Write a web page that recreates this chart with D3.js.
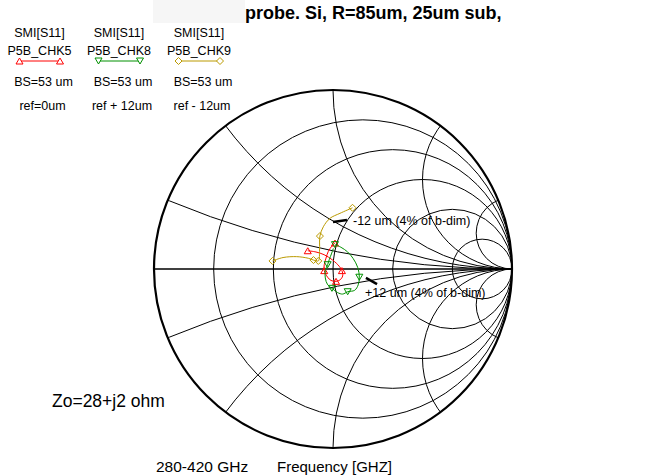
<!DOCTYPE html>
<html><head><meta charset="utf-8">
<script src="https://cdn.jsdelivr.net/npm/d3@7"></script>
<style>
html,body{margin:0;padding:0;background:#fff;}
svg{display:block;font-family:"Liberation Sans",Arial,sans-serif;}
</style></head>
<body>
<svg id="chart" width="666" height="476"></svg>
<script>
// ---- data (reflection coefficient, real / imaginary) ----
const seriesNames = ["P5B_CHK5", "P5B_CHK8", "P5B_CHK9"];
const seriesColors = ["#ff0000", "#009000", "#bb9a00"];
const seriesMarkers = ["up", "down", "diamond"];
const seriesBS = ["BS=53 um", "BS=53 um", "BS=53 um"];
const seriesRef = ["ref=0um", "ref + 12um", "ref - 12um"];

const chk5Re = [-0.141,-0.095,-0.050,-0.002,0.035,0.050,0.054,0.039,0.017,-0.011,-0.030,-0.049,-0.049,-0.039,-0.026,-0.007,0.011];
const chk5Im = [0.102,0.095,0.080,0.050,0.015,-0.009,-0.039,-0.061,-0.069,-0.064,-0.046,-0.009,0.024,0.061,0.099,0.127,0.145];
const chk5Mk = [0,5,8,11,16];

const chk8Re = [0.011,0.045,0.082,0.113,0.138,0.147,0.141,0.121,0.082,0.054,0.026,-0.006,-0.030,-0.043,-0.043,-0.030,-0.021,-0.007,0.002];
const chk8Im = [0.136,0.121,0.095,0.058,0.009,-0.046,-0.088,-0.119,-0.127,-0.140,-0.132,-0.108,-0.088,-0.050,-0.009,0.024,0.052,0.089,0.115];
const chk8Mk = [0,5,8,11,15];

const chk9Re = [-0.338,-0.279,-0.203,-0.138,-0.109,-0.082,-0.075,-0.073,-0.054,-0.017,0.039,0.109];
const chk9Im = [0.045,0.064,0.069,0.060,0.050,0.045,0.106,0.184,0.236,0.283,0.311,0.342];
const chk9Mk = [0,4,5,7,11];

const resistanceCircles = [0.2, 0.5, 1, 2, 5];
const reactanceArcs = [0.2, 0.5, 1, 2, 5, -0.2, -0.5, -1, -2, -5];

const annotTexts = ["-12 um (4% of b-dim)", "+12 um (4% of b-dim)"];
const annotFrom = [[0.000, 0.263], [0.184, -0.050]];
const annotTo = [[0.078, 0.274], [0.246, -0.084]];

const titleText = "probe. Si, R=85um, 25um sub,";
const zoText = "Zo=28+j2 ohm";
const rangeText = "280-420 GHz";
const xLabel = "Frequency [GHZ]";
const legendHead = "SMI[S11]";

// ---- layout ----
const cx = 333, cy = 269, R = 179;
const svg = d3.select("#chart");
const x = d3.scaleLinear().domain([-1, 1]).range([cx - R, cx + R]);
const y = d3.scaleLinear().domain([-1, 1]).range([cy + R, cy - R]);
const k = R; // pixels per unit

// faint box behind title
svg.append("rect").attr("x", 153).attr("y", 0).attr("width", 92).attr("height", 23).attr("fill", "#f6f6f6");

svg.append("defs").append("clipPath").attr("id", "unit")
  .append("circle").attr("cx", x(0)).attr("cy", y(0)).attr("r", k);

const grid = svg.append("g").attr("clip-path", "url(#unit)")
  .attr("fill", "none").attr("stroke", "#000").attr("stroke-width", 1);

grid.selectAll("circle.r").data(resistanceCircles).join("circle")
  .attr("class", "r")
  .attr("cx", r => x(r / (1 + r))).attr("cy", y(0))
  .attr("r", r => k / (1 + r));

grid.selectAll("circle.x").data(reactanceArcs).join("circle")
  .attr("class", "x")
  .attr("cx", x(1)).attr("cy", v => y(1 / v))
  .attr("r", v => k / Math.abs(v));

svg.append("line").attr("x1", x(-1)).attr("x2", x(1)).attr("y1", y(0)).attr("y2", y(0))
  .attr("stroke", "#000").attr("stroke-width", 1.3);

svg.append("circle").attr("cx", x(0)).attr("cy", y(0)).attr("r", k)
  .attr("fill", "none").attr("stroke", "#000").attr("stroke-width", 2.2);

// ---- series ----
const markerPath = {
  up: "M-3.5,3L3.5,3L0,-3Z",
  down: "M-3.5,-3L3.5,-3L0,3Z",
  diamond: "M0,-3.5L3.5,0L0,3.5L-3.5,0Z"
};
const series = [
  {re: chk5Re, im: chk5Im, mk: chk5Mk},
  {re: chk8Re, im: chk8Im, mk: chk8Mk},
  {re: chk9Re, im: chk9Im, mk: chk9Mk}
];
const line = d3.line().x(d => x(d[0])).y(d => y(d[1])).curve(d3.curveCatmullRom.alpha(0.5));

series.forEach((s, i) => {
  const pts = s.re.map((v, j) => [v, s.im[j]]);
  svg.append("path").datum(pts).attr("d", line)
    .attr("fill", "none").attr("stroke", seriesColors[i]).attr("stroke-width", 1);
  svg.append("g").selectAll("path").data(s.mk.map(j => pts[j])).join("path")
    .attr("transform", d => `translate(${x(d[0])},${y(d[1])})`)
    .attr("d", markerPath[seriesMarkers[i]])
    .attr("fill", "none").attr("stroke", seriesColors[i]).attr("stroke-width", 1);
});

// ---- annotations ----
annotTexts.forEach((t, i) => {
  svg.append("line")
    .attr("x1", x(annotFrom[i][0])).attr("y1", y(annotFrom[i][1]))
    .attr("x2", x(annotTo[i][0])).attr("y2", y(annotTo[i][1]))
    .attr("stroke", "#000").attr("stroke-width", 2.5);
});
svg.append("text").attr("x", 353).attr("y", 225).attr("font-size", 12.5).text(annotTexts[0]);
svg.append("text").attr("x", 365).attr("y", 297).attr("font-size", 12.5).text(annotTexts[1]);

// ---- legend ----
const legX = [39.5, 119, 199];
const legLineX0 = [19.5, 98.5, 178.5];
const legLineX1 = [60, 140, 220];
seriesNames.forEach((n, i) => {
  const g = svg.append("g").attr("font-size", 12.5).attr("text-anchor", "middle");
  g.append("text").attr("x", legX[i]).attr("y", 37).text(legendHead);
  g.append("text").attr("x", legX[i]).attr("y", 54.5).text(n);
  g.append("line").attr("x1", legLineX0[i]).attr("x2", legLineX1[i]).attr("y1", 61).attr("y2", 61)
    .attr("stroke", seriesColors[i]).attr("stroke-width", 1);
  [legLineX0[i], legLineX1[i]].forEach(px => {
    g.append("path").attr("transform", `translate(${px},61)`).attr("d", markerPath[seriesMarkers[i]])
      .attr("fill", "#fff").attr("stroke", seriesColors[i]);
  });
  g.append("text").attr("x", legX[i] + 4).attr("y", 86).text(seriesBS[i]);
  g.append("text").attr("x", legX[i] + 3).attr("y", 110).text(seriesRef[i]);
});

// ---- titles ----
svg.append("text").attr("x", 245).attr("y", 19).attr("font-size", 18).attr("font-weight", "bold").text(titleText);
svg.append("text").attr("x", 52).attr("y", 407).attr("font-size", 17.5).text(zoText);
svg.append("text").attr("x", 156).attr("y", 472).attr("font-size", 15.5).text(rangeText);
svg.append("text").attr("x", 277).attr("y", 472).attr("font-size", 15).text(xLabel);
</script>
</body></html>
